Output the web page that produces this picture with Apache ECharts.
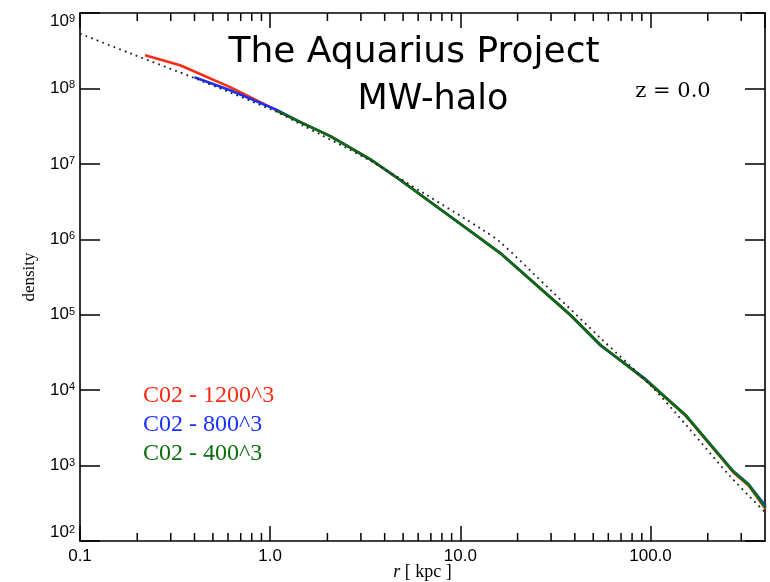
<!DOCTYPE html>
<html>
<head>
<meta charset="utf-8">
<script src="https://cdn.jsdelivr.net/npm/echarts@6/dist/echarts.min.js"></script>
<style>html,body{margin:0;padding:0;background:#fff}#c{width:770px;height:582px}</style>
</head>
<body>
<div id="c"></div>
<script>
// ---- data ----
const xTickLabels = ['0.1', '1.0', '10.0', '100.0'];
const minorTicksX = [0.2,0.3,0.4,0.5,0.6,0.7,0.8,0.9,2,3,4,5,6,7,8,9,20,30,40,50,60,70,80,90,200,300];
const seriesNames = ['C02 - 1200^3', 'C02 - 800^3', 'C02 - 400^3'];
const red1200 = [[0.22,2.75e8],[0.336,2.03e8],[0.616,1.04e8],[1.13,4.84e7],[1.44,3.57e7],[2.07,2.33e7],[3.36,1.15e7],[4.83,6.1e6],[11.3,1.28e6],[16.2,6.56e5],[37.9,9.9e4],[54.6,3.97e4],[94.2,1.36e4],[152.8,4.6e3],[273,810],[328,545],[403,265]];
const blue800 = [[0.40,1.41e8],[0.616,9.46e7],[1.09,5.15e7],[1.44,3.57e7],[2.07,2.33e7],[3.36,1.15e7],[4.83,6.1e6],[11.3,1.28e6],[16.2,6.56e5],[37.9,9.9e4],[54.6,3.9e4],[94.2,1.4e4],[152.8,4.65e3],[273,840],[328,565],[403,290]];
const green400 = [[1.09,4.99e7],[1.44,3.57e7],[2.07,2.33e7],[3.36,1.15e7],[4.83,6.1e6],[11.3,1.28e6],[16.2,6.56e5],[37.9,9.9e4],[54.6,3.97e4],[94.2,1.37e4],[152.8,4.69e3],[273,826],[328,556],[403,275]];
const fitDotted = [[0.1,5.34e8],[0.183,2.93e8],[0.403,1.36e8],[1.09,4.84e7],[1.44,3.36e7],[3.36,1.1e7],[6.5,4.0e6],[13.2,1.32e6],[16.2,9.18e5],[29.8,2.12e5],[54.6,4.9e4],[102,1.10e4],[157,3.25e3],[264,708],[403,237]];

const X_MIN = 0.1, X_MAX = 400, Y_MIN = 1e2, Y_MAX = 1e9;
const RED = '#ff2a12', BLUE = '#1a30ff', GREEN = '#0a6e0a';

const chart = echarts.init(document.getElementById('c'), null, {renderer: 'canvas'});
const axisLine = {show: true, lineStyle: {color: '#000', width: 1.6}};
const labelFont = 'Liberation Sans';

const option = {
  backgroundColor: '#fff',
  animation: false,
  grid: {left: 80, right: 5, top: 13, bottom: 41, containLabel: false, outerBoundsMode: 'none'},
  title: [
    {text: 'The Aquarius Project', left: 409, top: 30, textAlign: 'center',
     textStyle: {fontFamily: 'DejaVu Sans', fontSize: 36, fontWeight: 'normal', color: '#000'}},
    {text: 'MW-halo', left: 428, top: 77, textAlign: 'center',
     textStyle: {fontFamily: 'DejaVu Sans', fontSize: 35, fontWeight: 'normal', color: '#000'}},
    {text: 'z = 0.0', left: 668, top: 76, textAlign: 'center',
     textStyle: {fontFamily: 'DejaVu Serif', fontSize: 21, fontWeight: 'normal', color: '#000'}}
  ],
  legend: {
    orient: 'vertical', left: 133, top: 378, icon: 'none', itemWidth: 0, itemHeight: 10, itemGap: 4,
    selectedMode: false,
    textStyle: {fontFamily: 'Liberation Serif', fontSize: 24, lineHeight: 25},
    data: [
      {name: seriesNames[0], textStyle: {color: RED}},
      {name: seriesNames[1], textStyle: {color: BLUE}},
      {name: seriesNames[2], textStyle: {color: GREEN}}
    ]
  },
  xAxis: [
    {type: 'log', logBase: 10, min: X_MIN, max: X_MAX, position: 'bottom',
     axisLine: axisLine, splitLine: {show: false},
     axisTick: {show: true, inside: true, length: 15, lineStyle: {color: '#000', width: 1.5}},
     axisLabel: {show: true, margin: 7, showMaxLabel: false, fontFamily: labelFont, fontSize: 17, color: '#000',
       formatter: function (v) {
         const i = Math.round(Math.log10(v)) + 1;
         return xTickLabels[i] !== undefined ? xTickLabels[i] : '';
       }},
     name: '{i|r} [ kpc ]', nameLocation: 'middle', nameGap: 22, nameMoveOverlap: false,
     nameTextStyle: {fontFamily: 'Liberation Serif', fontSize: 18, color: '#000',
       rich: {i: {fontFamily: 'Liberation Serif', fontStyle: 'italic', fontSize: 18, color: '#000'}}}},
    {type: 'log', logBase: 10, min: X_MIN, max: X_MAX, position: 'top',
     axisLine: axisLine, splitLine: {show: false},
     axisTick: {show: true, inside: true, length: 15, lineStyle: {color: '#000', width: 1.5}},
     axisLabel: {show: false}}
  ],
  yAxis: [
    {type: 'log', logBase: 10, min: Y_MIN, max: Y_MAX, position: 'left',
     axisLine: axisLine, splitLine: {show: false},
     axisTick: {show: true, inside: true, length: 20, lineStyle: {color: '#000', width: 1.5}},
     axisLabel: {show: true, margin: 5, color: '#000',
       verticalAlignMinLabel: 'bottom', verticalAlignMaxLabel: 'top',
       formatter: function (v) { return '{b|10}{s|' + Math.round(Math.log10(v)) + '}'; },
       rich: {
         b: {fontFamily: labelFont, fontSize: 17, color: '#000'},
         s: {fontFamily: labelFont, fontSize: 11, color: '#000', verticalAlign: 'top'}
       }},
     name: 'density', nameLocation: 'middle', nameGap: 42, nameMoveOverlap: false,
     nameTextStyle: {fontFamily: 'Liberation Serif', fontSize: 17, color: '#000'}},
    {type: 'log', logBase: 10, min: Y_MIN, max: Y_MAX, position: 'right',
     axisLine: axisLine, splitLine: {show: false},
     axisTick: {show: true, inside: true, length: 20, lineStyle: {color: '#000', width: 1.5}},
     axisLabel: {show: false}}
  ],
  series: [
    {name: seriesNames[0], type: 'line', data: red1200, showSymbol: false, symbol: 'none',
     lineStyle: {color: RED, width: 2.6}, itemStyle: {color: RED}, z: 2},
    {name: seriesNames[1], type: 'line', data: blue800, showSymbol: false, symbol: 'none',
     lineStyle: {color: BLUE, width: 2.6}, itemStyle: {color: BLUE}, z: 3},
    {name: seriesNames[2], type: 'line', data: green400, showSymbol: false, symbol: 'none',
     lineStyle: {color: GREEN, width: 2.6}, itemStyle: {color: GREEN}, z: 4},
    {name: 'fit', type: 'line', data: fitDotted, showSymbol: false, symbol: 'none', smooth: 0.3,
     lineStyle: {color: '#222', width: 1.8, type: [1.8, 4.2]}, z: 5},
    {name: 'minorTicks', type: 'custom', data: minorTicksX.map(v => [v, Y_MIN]), silent: true, z: 6,
     renderItem: function (params, api) {
       const x = api.value(0);
       const b = api.coord([x, Y_MIN]);
       const t = api.coord([x, Y_MAX]);
       const st = {stroke: '#000', lineWidth: 1.5};
       return {type: 'group', children: [
         {type: 'line', shape: {x1: b[0], y1: b[1], x2: b[0], y2: b[1] - 8}, style: st},
         {type: 'line', shape: {x1: t[0], y1: t[1], x2: t[0], y2: t[1] + 8}, style: st}
       ]};
     }}
  ]
};
chart.setOption(option);
</script>
</body>
</html>
